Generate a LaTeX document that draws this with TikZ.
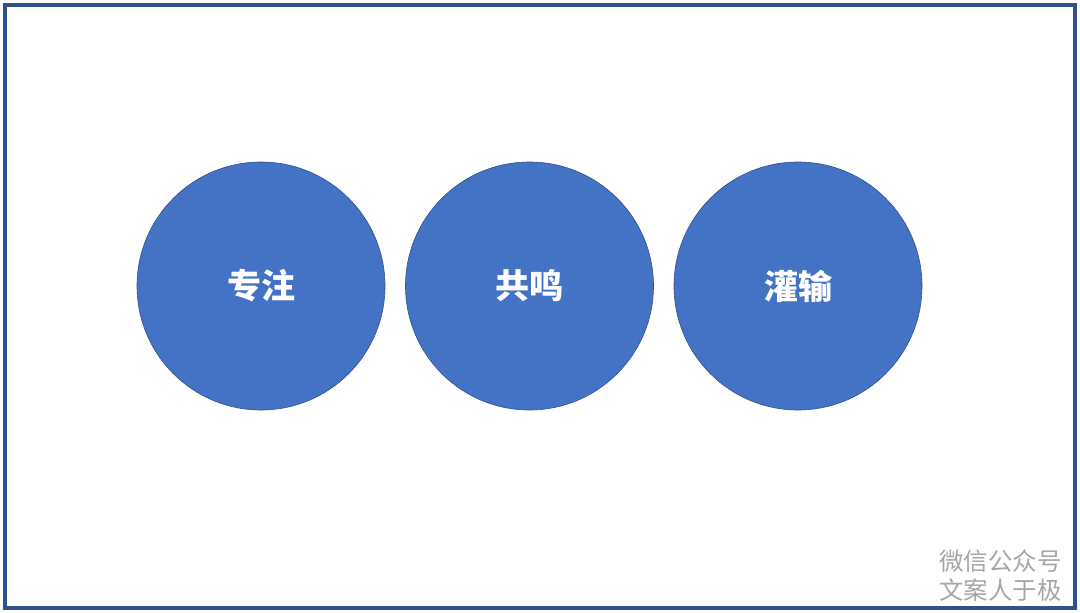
\documentclass[tikz,border=0pt]{standalone}
\usepackage{fontspec}
\usepackage{tikz}
\newfontfamily\cjk{Noto Sans CJK SC}
\definecolor{rahmenblau}{HTML}{2F528F}
\definecolor{kreisblau}{HTML}{4472C4}
\definecolor{wasserzeichen}{HTML}{A6A6A6}
\tikzset{
	kreis/.style={circle, minimum size=248pt, inner sep=0pt, fill=kreisblau, draw=rahmenblau, line width=0.6pt,
		text=white, font=\cjk\bfseries\fontsize{34pt}{40pt}\selectfont},
	zeichen/.style={text=wasserzeichen, font=\cjk\fontsize{24.5pt}{29pt}\selectfont, align=right, inner sep=0pt, anchor=east}
}

\begin{document}
\begin{tikzpicture}[x=1pt, y=-1pt]
			\useasboundingbox (0,0) rectangle (1080,613);
			\draw [rahmenblau, line width=3.2pt] (5,5) rectangle (1075,608);
			\node [kreis] (zhuanzhu) at (261,286) {专注};
			\node [kreis] (gongming) at (529.5,286) {共鸣};
			\node [kreis] (guanshu) at (798,286) {灌输};
				\node [zeichen] (gongzhonghao) at (1062,575.5) {微信公众号\\文案人于极};
		\end{tikzpicture}
\end{document}
